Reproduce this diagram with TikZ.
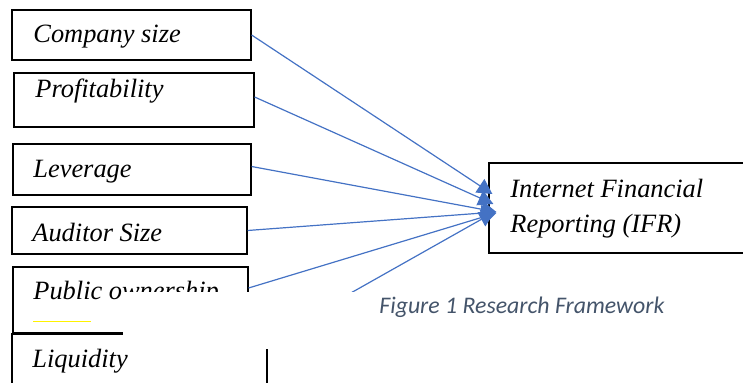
\documentclass[tikz,border=0pt]{standalone}
\usepackage{fontspec}
\setmainfont{Liberation Serif}
\newfontfamily\capfont{Carlito}
\usetikzlibrary{arrows.meta,fit,positioning}
\definecolor{linkblue}{HTML}{4472C4}
\definecolor{capgray}{HTML}{44546A}

\begin{document}
\begin{tikzpicture}[x=0.5pt,y=-0.5pt,
  box/.style={draw,line width=0.6pt,inner sep=0pt},
  lbl/.style={inner sep=0pt,anchor=base west,font=\fontsize{13.2}{17.5}\selectfont\itshape},
  link/.style={draw=linkblue,line width=0.6pt,-{Triangle[length=7.5pt,width=8pt]}}]
  \clip (0,0) rectangle (743,383);
  % the six factors
  \foreach \n/\lab/\xa/\ya/\xb/\yb/\xt/\yt in {size/Company size/12/10/251/60/33/43,
      profit/Profitability/14/73/254/127/35/98,
      lev/Leverage/13/144/251/195/33/178,
      audit/Auditor Size/12/207/247/254/32/242,
      public/Public ownership/13/267/248/333/33/300,
      liquid/Liquidity/12/334/267/400/32/368}
  {
    \node[box,fit={(\xa,\ya) (\xb,\yb)}] (\n) {};
    \node[lbl] (\n-txt) at (\xt,\yt) {\lab};
    }

  % dependent variable
  \node[box,fit={(489,163) (770,253)}] (ifr) {};
  \node[lbl,anchor=west,align=left] (ifr-txt) at (510,208.5) {Internet Financial\\Reporting (IFR)};
  \coordinate (tipA) at ([shift={(2pt,7pt)}]ifr.west);
  \coordinate (tipB) at ([shift={(4pt,-2pt)}]ifr.west);

  \draw[link] (size.east) -- (tipA);
  \draw[link] ([yshift=1.5pt]profit.east) -- ([shift={(2.5pt,2pt)}]ifr.west);
  \draw[link] ([yshift=1.5pt]lev.east) -- (tipB);
  \draw[link] (audit.east) -- (tipB);
  \draw[link] ([yshift=6pt]public.east) -- ([yshift=-0.5pt]tipB);
  \coordinate (liqstart) at ([shift={(-7.5pt,-7.5pt)}]liquid.north east);
  \draw[link] (liqstart) -- ([xshift=-1pt]tipB);

  % white patch over the lower boxes
  \fill[white] (123,292) rectangle (360,349);
  \draw[yellow,line width=0.5pt] (33,322) -- (91,322);

  \node[font=\capfont\itshape\fontsize{11.9}{14}\selectfont,text=capgray,anchor=base west,inner sep=0pt] (caption) at (379,314) {Figure 1 Research Framework};
\end{tikzpicture}
\end{document}
